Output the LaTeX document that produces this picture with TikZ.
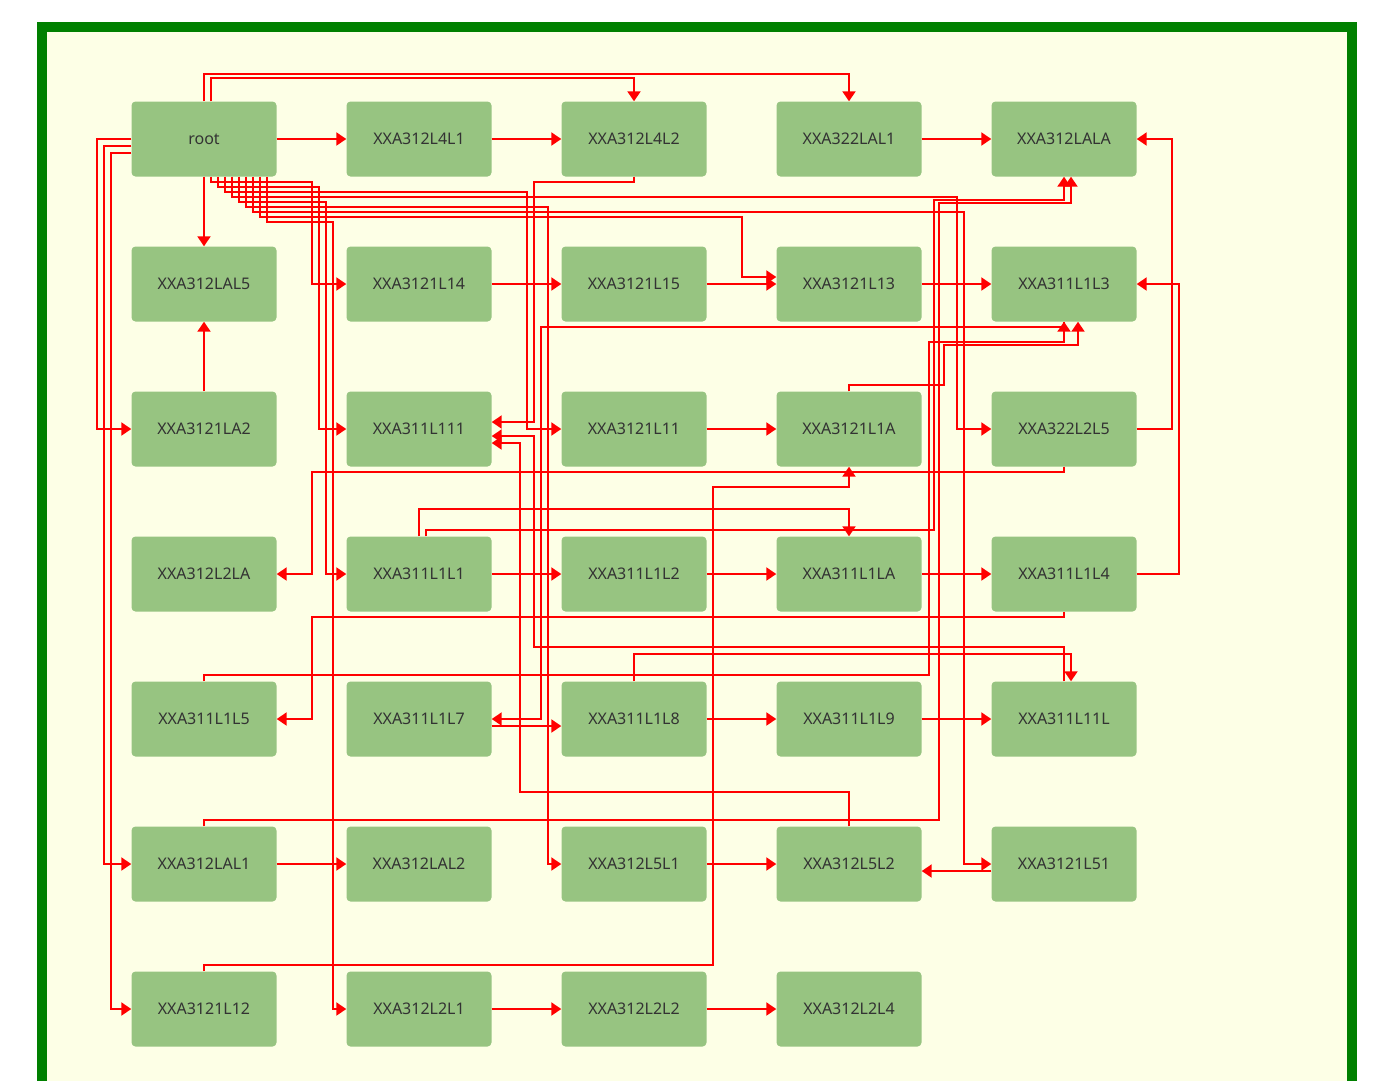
\documentclass[tikz,border=0pt]{standalone}
\usepackage{fontspec}
\setmainfont{Noto Sans}
\usetikzlibrary{arrows.meta}
\definecolor{nodegreen}{HTML}{97C481}
\definecolor{framegreen}{HTML}{008000}
\definecolor{paper}{HTML}{FDFFE6}
\definecolor{labelgray}{HTML}{333333}
\begin{document}
\begin{tikzpicture}[x=1pt,y=-1pt,
  box/.style={fill=nodegreen,rounded corners=4pt,minimum width=145pt,minimum height=75pt,inner sep=0pt,text=labelgray,font=\fontsize{16pt}{19pt}\selectfont},
  link/.style={draw=red,line width=2pt,-{Triangle[length=10pt,width=13pt]}}]
\useasboundingbox (0,0) rectangle (1399,1080);
\clip (0,0) rectangle (1399,1080);
\draw[framegreen,line width=10pt,fill=paper] (42,27) rectangle (1352,1120);
% nodes
\node[box] (root) at (204,139) {root};
\node[box] (XXA312L4L1) at (419,139) {XXA312L4L1};
\node[box] (XXA312L4L2) at (634,139) {XXA312L4L2};
\node[box] (XXA322LAL1) at (849,139) {XXA322LAL1};
\node[box] (XXA312LALA) at (1064,139) {XXA312LALA};
\node[box] (XXA312LAL5) at (204,284) {XXA312LAL5};
\node[box] (XXA3121L14) at (419,284) {XXA3121L14};
\node[box] (XXA3121L15) at (634,284) {XXA3121L15};
\node[box] (XXA3121L13) at (849,284) {XXA3121L13};
\node[box] (XXA311L1L3) at (1064,284) {XXA311L1L3};
\node[box] (XXA3121LA2) at (204,429) {XXA3121LA2};
\node[box] (XXA311L111) at (419,429) {XXA311L111};
\node[box] (XXA3121L11) at (634,429) {XXA3121L11};
\node[box] (XXA3121L1A) at (849,429) {XXA3121L1A};
\node[box] (XXA322L2L5) at (1064,429) {XXA322L2L5};
\node[box] (XXA312L2LA) at (204,574) {XXA312L2LA};
\node[box] (XXA311L1L1) at (419,574) {XXA311L1L1};
\node[box] (XXA311L1L2) at (634,574) {XXA311L1L2};
\node[box] (XXA311L1LA) at (849,574) {XXA311L1LA};
\node[box] (XXA311L1L4) at (1064,574) {XXA311L1L4};
\node[box] (XXA311L1L5) at (204,719) {XXA311L1L5};
\node[box] (XXA311L1L7) at (419,719) {XXA311L1L7};
\node[box] (XXA311L1L8) at (634,719) {XXA311L1L8};
\node[box] (XXA311L1L9) at (849,719) {XXA311L1L9};
\node[box] (XXA311L11L) at (1064,719) {XXA311L11L};
\node[box] (XXA312LAL1) at (204,864) {XXA312LAL1};
\node[box] (XXA312LAL2) at (419,864) {XXA312LAL2};
\node[box] (XXA312L5L1) at (634,864) {XXA312L5L1};
\node[box] (XXA312L5L2) at (849,864) {XXA312L5L2};
\node[box] (XXA3121L51) at (1064,864) {XXA3121L51};
\node[box] (XXA3121L12) at (204,1009) {XXA3121L12};
\node[box] (XXA312L2L1) at (419,1009) {XXA312L2L1};
\node[box] (XXA312L2L2) at (634,1009) {XXA312L2L2};
\node[box] (XXA312L2L4) at (849,1009) {XXA312L2L4};
% straight links
\draw[link] (root) -- (XXA312L4L1);
\draw[link] (XXA312L4L1) -- (XXA312L4L2);
\draw[link] (XXA322LAL1) -- (XXA312LALA);
\draw[link] (XXA3121L14) -- (XXA3121L15);
\draw[link] (XXA3121L15) -- (XXA3121L13);
\draw[link] (XXA3121L13) -- (XXA311L1L3);
\draw[link] (XXA3121L11) -- (XXA3121L1A);
\draw[link] (XXA311L1L1) -- (XXA311L1L2);
\draw[link] (XXA311L1L2) -- (XXA311L1LA);
\draw[link] (XXA311L1LA) -- (XXA311L1L4);
\draw[link] ([yshift=-7pt]XXA311L1L7.east) -- ([yshift=-7pt]XXA311L1L8.west);
\draw[link] (XXA311L1L8) -- (XXA311L1L9);
\draw[link] (XXA311L1L9) -- (XXA311L11L);
\draw[link] (XXA312LAL1) -- (XXA312LAL2);
\draw[link] (XXA312L5L1) -- (XXA312L5L2);
\draw[link] ([yshift=-7pt]XXA3121L51.west) -- ([yshift=-7pt]XXA312L5L2.east);
\draw[link] (XXA312L2L1) -- (XXA312L2L2);
\draw[link] (XXA312L2L2) -- (XXA312L2L4);
\draw[link] (root) -- (XXA312LAL5);
\draw[link] (XXA3121LA2) -- (XXA312LAL5);
% links out of root
\draw[link] (root.north) |- (849,74) -- (XXA322LAL1.north);
\draw[link] ([xshift=7pt]root.north) |- (634,78) -- (XXA312L4L2.north);
\draw[link] (root.west) -| (97,429) -- (XXA3121LA2.west);
\draw[link] ([yshift=-7pt]root.west) -| (104,864) -- (XXA312LAL1.west);
\draw[link] ([yshift=-14pt]root.west) -| (111,1009) -- (XXA3121L12.west);
\draw[link] ([xshift=7pt]root.south) |- (312,182) |- (XXA3121L14.west);
\draw[link] ([xshift=14pt]root.south) |- (319,187) |- (XXA311L111.west);
\draw[link] ([xshift=21pt]root.south) |- (527,192) |- (XXA3121L11.west);
\draw[link] ([xshift=28pt]root.south) |- (957,197) |- (XXA322L2L5.west);
\draw[link] ([xshift=35pt]root.south) |- (326,202) |- (XXA311L1L1.west);
\draw[link] ([xshift=42pt]root.south) |- (548,207) |- (XXA312L5L1.west);
\draw[link] ([xshift=49pt]root.south) |- (964,212) |- (XXA3121L51.west);
\draw[link] ([xshift=56pt]root.south) |- (742,217) |- ([yshift=7pt]XXA3121L13.west);
\draw[link] ([xshift=63pt]root.south) |- (333,222) |- (XXA312L2L1.west);
% long links
\draw[link] (XXA312L4L2.south) |- (534,182) |- ([yshift=7pt]XXA311L111.east);
\draw[link] (XXA322L2L5.east) -| (1172,139) -- (XXA312LALA.east);
\draw[link] (XXA311L1L4.east) -| (1179,284) -- (XXA311L1L3.east);
\draw[link] (XXA322L2L5.south) |- (312,472) |- (XXA312L2LA.east);
\draw[link] (XXA311L1L4.south) |- (312,617) |- (XXA311L1L5.east);
\draw[link] (XXA3121L1A.north) |- (944,385) |- (1078,345) -- ([xshift=14pt]XXA311L1L3.south);
\draw[link] (XXA311L1L5.north) |- (929,675) |- (1064,342) -- (XXA311L1L3.south);
\draw[link] (XXA311L1L3.south) |- (541,327) |- (XXA311L1L7.east);
\draw[link] (XXA311L1L1.north) |- (849,509) -- (XXA311L1LA.north);
\draw[link] ([xshift=7pt]XXA311L1L1.north) |- (934,530) |- (1064,200) -- (XXA312LALA.south);
\draw[link] (XXA312LAL1.north) |- (939,820) |- (1071,203) -- ([xshift=7pt]XXA312LALA.south);
\draw[link] (XXA312L5L2.north) |- (520,792) |- ([yshift=-14pt]XXA311L111.east);
\draw[link] (XXA311L11L.north) |- (534,647) |- ([yshift=-7pt]XXA311L111.east);
\draw[link] (XXA311L1L8.north) |- (1071,654) -- ([xshift=7pt]XXA311L11L.north);
\draw[link] (XXA3121L12.north) |- (713,965) |- (849,487) -- (XXA3121L1A.south);
\end{tikzpicture}
\end{document}
